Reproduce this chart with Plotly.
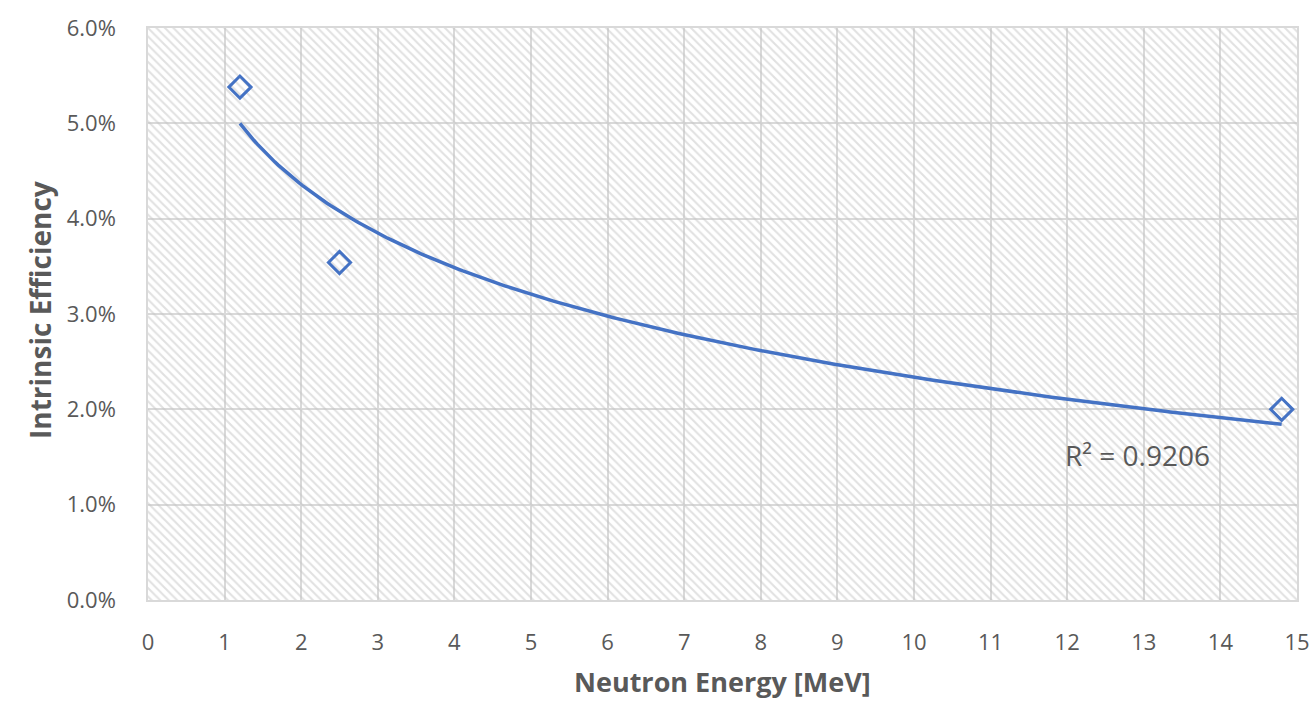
import numpy as np
import plotly.graph_objects as go

# Data
energy_mev = [1.2, 2.5, 14.8]
efficiency = [0.0538, 0.0354, 0.0200]
r2_label = "R² = 0.9206"

x_ticks = list(range(0, 16))
y_ticks = [0.0, 0.01, 0.02, 0.03, 0.04, 0.05, 0.06]

BLUE = "#4472C4"
GRAY_TXT = "#595959"
GRID = "#d9d9d9"
FONT = "Open Sans"

# Logarithmic trendline fitted to the data (as in the spreadsheet)
b, a = np.polyfit(np.log(energy_mev), efficiency, 1)
xfit = np.linspace(min(energy_mev), max(energy_mev), 300)
yfit = a + b * np.log(xfit)

fig = go.Figure()

# hatched plot background
fig.add_trace(go.Scatter(
    x=[0, 15, 15, 0, 0], y=[0, 0, 0.06, 0.06, 0],
    mode="none", fill="toself", fillcolor="rgba(0,0,0,0)",
    fillpattern=dict(shape="\\", fgcolor="#c4c4c4", bgcolor="rgba(0,0,0,0)",
                     size=6, solidity=0.35),
    hoverinfo="skip", showlegend=False,
))

fig.add_trace(go.Scatter(
    x=xfit, y=yfit, mode="lines",
    line=dict(color=BLUE, width=3.5), showlegend=False, hoverinfo="skip",
))

fig.add_trace(go.Scatter(
    x=energy_mev, y=efficiency, mode="markers",
    marker=dict(symbol="diamond-open", size=17, color=BLUE,
                line=dict(color=BLUE, width=3)),
    showlegend=False,
))

fig.add_annotation(
    x=12.92, y=0.0152, text=r2_label, showarrow=False,
    font=dict(family=FONT, size=28, color=GRAY_TXT),
)

# axis titles
fig.add_annotation(
    xref="paper", yref="paper", x=0.5, y=-0.142,
    xanchor="center", yanchor="middle", showarrow=False,
    text="<b>Neutron Energy [MeV]</b>",
    font=dict(family=FONT, size=27, color=GRAY_TXT),
)
fig.add_annotation(
    xref="paper", yref="paper", x=-0.094, y=0.507,
    xanchor="center", yanchor="middle", showarrow=False, textangle=-90,
    text="<b>Intrinsic Efficiency</b>",
    font=dict(family=FONT, size=28, color=GRAY_TXT),
)

fig.update_layout(
    width=1313, height=701,
    margin=dict(l=148, r=16, t=28, b=101),
    paper_bgcolor="white", plot_bgcolor="white",
    font=dict(family=FONT, color=GRAY_TXT),
)

fig.update_xaxes(
    range=[0, 15], tickvals=x_ticks, ticktext=[str(v) for v in x_ticks],
    showgrid=True, gridcolor=GRID, gridwidth=1.5,
    showline=True, linecolor=GRID, linewidth=1.5, mirror=True,
    zeroline=False, ticks="", ticklabelstandoff=22, automargin=False,
    tickfont=dict(family=FONT, size=22, color=GRAY_TXT),
)
fig.update_yaxes(
    range=[0, 0.06], tickvals=y_ticks, tickformat=".1%",
    showgrid=True, gridcolor=GRID, gridwidth=1.5,
    showline=True, linecolor=GRID, linewidth=1.5, mirror=True,
    zeroline=False, ticks="", ticklabelstandoff=26, automargin=False,
    tickfont=dict(family=FONT, size=22, color=GRAY_TXT),
)

fig.write_html("out.html")
